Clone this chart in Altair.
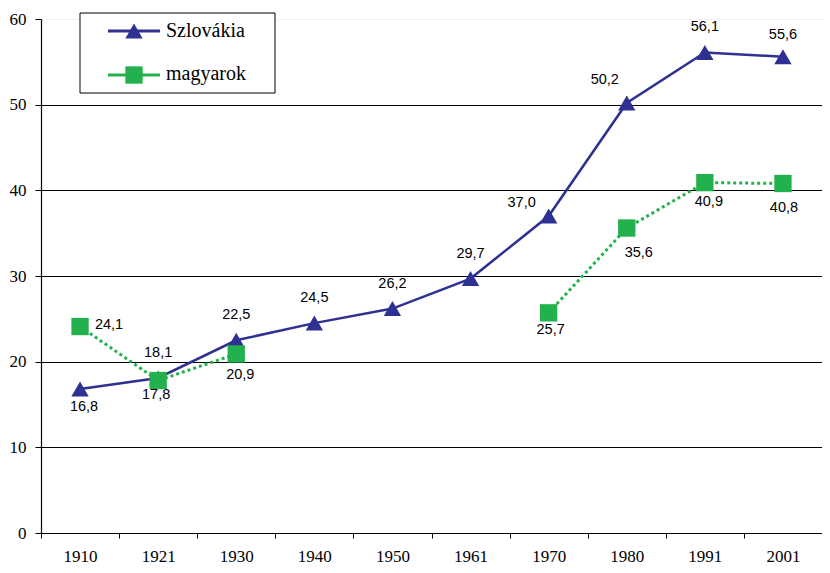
import altair as alt
import pandas as pd

years = ["1910", "1921", "1930", "1940", "1950", "1961", "1970", "1980", "1991", "2001"]
szlovakia = [16.8, 18.1, 22.5, 24.5, 26.2, 29.7, 37.0, 50.2, 56.1, 55.6]
magyarok = [24.1, 17.8, 20.9, None, None, None, 25.7, 35.6, 40.9, 40.8]
y_ticks = [0, 10, 20, 30, 40, 50, 60]

NAVY = "#2E3192"
GREEN = "#22B14C"
SERIF = "Liberation Serif"
SANS = "Liberation Sans"


def fmt(v):
    return f"{v:.1f}".replace(".", ",")


sz = pd.DataFrame({"year": years, "value": szlovakia})
sz["label"] = sz["value"].map(fmt)

mg = pd.DataFrame({"year": years, "value": magyarok}).dropna().reset_index(drop=True)
seg, s, prev = [], 0, None
for y in mg["year"]:
    i = years.index(y)
    if prev is not None and i != prev + 1:
        s += 1
    seg.append(s)
    prev = i
mg["seg"] = seg
mg["label"] = mg["value"].map(fmt)

W, H = 781, 514

x_enc = alt.X(
    "year:N",
    sort=years,
    bandPosition=0.5,
    scale=alt.Scale(type="band", domain=years, paddingInner=0, paddingOuter=0),
    axis=alt.Axis(
        title=None, tickBand="extent", tickSize=5, tickColor="black",
        domainColor="black", domainWidth=1.2, labelAngle=0,
        labelFont=SERIF, labelFontSize=17, labelColor="black", labelPadding=10,
        grid=False,
    ),
)
y_enc = alt.Y(
    "value:Q",
    scale=alt.Scale(domain=[0, 60], nice=False, zero=True),
    axis=alt.Axis(
        title=None, values=y_ticks, tickSize=6, tickColor="black",
        domainColor="black", domainWidth=1.2,
        labelFont=SERIF, labelFontSize=17, labelColor="black", labelPadding=9,
        grid=True,
        gridColor={"condition": {"test": "datum.value === 60", "value": "#f0f0f0"}, "value": "black"},
        gridWidth=1,
    ),
)

sz_line = alt.Chart(sz).mark_line(color=NAVY, strokeWidth=2.5).encode(x=x_enc, y=y_enc)
sz_pts = alt.Chart(sz).mark_point(shape="triangle-up", filled=True, size=300, color=NAVY, opacity=1).encode(x=x_enc, y=y_enc)
mg_line = alt.Chart(mg).mark_line(color=GREEN, strokeWidth=3, strokeDash=[3, 3]).encode(x=x_enc, y=y_enc, detail="seg:N")
mg_pts = alt.Chart(mg).mark_point(shape="square", filled=True, size=300, color=GREEN, opacity=1).encode(x=x_enc, y=y_enc)


def labels(df, yrs, dx, dy):
    return alt.Chart(df).mark_text(
        font=SANS, fontSize=14.5, color="black", dx=dx, dy=dy, baseline="middle", align="center"
    ).encode(x=x_enc, y=y_enc, text="label:N").transform_filter(
        alt.FieldOneOfPredicate(field="year", oneOf=yrs)
    )


lab_layers = [
    labels(sz, ["1921", "1930", "1940", "1950", "1961", "1991"], 0, -25),
    labels(sz, ["2001"], 0, -22),
    labels(sz, ["1910"], 4, 18),
    labels(sz, ["1970"], -27, -13),
    labels(sz, ["1980"], -22, -23),
    labels(mg, ["1910"], 29, -2),
    labels(mg, ["1921"], -2, 14),
    labels(mg, ["1930"], 4, 21),
    labels(mg, ["1970"], 2, 17),
    labels(mg, ["1980"], 12, 25),
    labels(mg, ["1991"], 4, 19),
    labels(mg, ["2001"], 1, 25),
]

dummy = pd.DataFrame({"a": [0]})
leg_box = alt.Chart(dummy).mark_rect(fill="white", stroke="black", strokeWidth=1).encode(
    x=alt.value(39), x2=alt.value(234), y=alt.value(-6), y2=alt.value(74)
)
leg_sz_line = alt.Chart(dummy).mark_rule(color=NAVY, strokeWidth=3).encode(
    x=alt.value(67), x2=alt.value(119), y=alt.value(12)
)
leg_sz_pt = alt.Chart(dummy).mark_point(shape="triangle-up", filled=True, size=300, color=NAVY, opacity=1).encode(
    x=alt.value(93), y=alt.value(12)
)
leg_sz_txt = alt.Chart(dummy).mark_text(align="left", baseline="middle", font=SERIF, fontSize=20, color="black").encode(
    x=alt.value(125), y=alt.value(12), text=alt.value("Szlovákia")
)
leg_mg_line = alt.Chart(dummy).mark_rule(color=GREEN, strokeWidth=3).encode(
    x=alt.value(67), x2=alt.value(119), y=alt.value(56)
)
leg_mg_pt = alt.Chart(dummy).mark_point(shape="square", filled=True, size=300, color=GREEN, opacity=1).encode(
    x=alt.value(93), y=alt.value(56)
)
leg_mg_txt = alt.Chart(dummy).mark_text(align="left", baseline="middle", font=SERIF, fontSize=20, color="black").encode(
    x=alt.value(125), y=alt.value(55), text=alt.value("magyarok")
)

chart = alt.layer(
    sz_line, mg_line, sz_pts, mg_pts, *lab_layers,
    leg_box, leg_sz_line, leg_sz_pt, leg_sz_txt, leg_mg_line, leg_mg_pt, leg_mg_txt,
).properties(
    width=W, height=H,
    padding={"left": 33, "top": 11, "right": 0, "bottom": 32},
    autosize=alt.AutoSizeParams(type="none"),
    background="white",
).configure_view(stroke=None)

chart.save("out.html", embed_options={"renderer": "svg", "actions": False})
